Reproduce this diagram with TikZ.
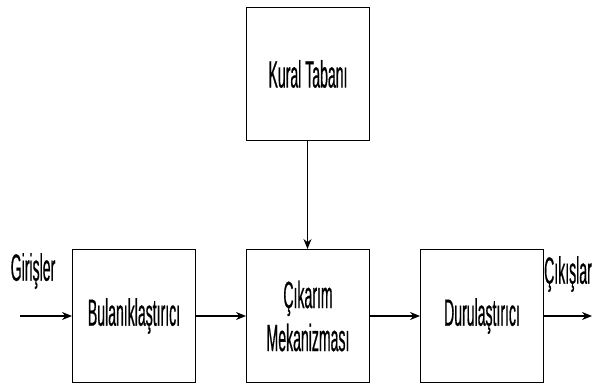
\documentclass[tikz,border=0pt]{standalone}
\usepackage{fontspec}
\setmainfont[FakeStretch=0.37,FakeBold=0.4]{Liberation Sans}
\usetikzlibrary{arrows.meta}
\begin{document}
\begin{tikzpicture}[x=1pt,y=-1pt,
  blk/.style={draw=black,line width=1pt,minimum width=123pt,minimum height=133pt,inner sep=0pt,anchor=north west,align=center,font=\fontsize{38}{43}\selectfont},
  lbl/.style={font=\fontsize{38}{43}\selectfont,inner sep=0pt},
  conn/.style={line width=1.2pt,-{Stealth[length=10pt,width=8pt]}}]
\useasboundingbox (0,0) rectangle (593,387);
\node[blk] (kb) at (246,7) {Kural Tabanı};
\node[blk] (bu) at (72,249) {Bulanıklaştırıcı};
\node[blk] (ck) at (246,249) {Çıkarım\\Mekanizması};
\node[blk] (du) at (420,249) {Durulaştırıcı};
\coordinate (in) at (20,316);
\coordinate (out) at (592,316);
\node[lbl] (gi) at (33,271) {Girişler};
\node[lbl] (co) at (568,274) {Çıkışlar};
\draw[conn] (in) -- (bu.west);
\draw[conn] (bu.east) -- (ck.west);
\draw[conn] (ck.east) -- (du.west);
\draw[conn] (du.east) -- (out);
\draw[conn,line width=0.9pt] (kb.south) ++(-0.5,0) coordinate (kbs) (kbs) -- (kbs |- ck.north);
\end{tikzpicture}
\end{document}
